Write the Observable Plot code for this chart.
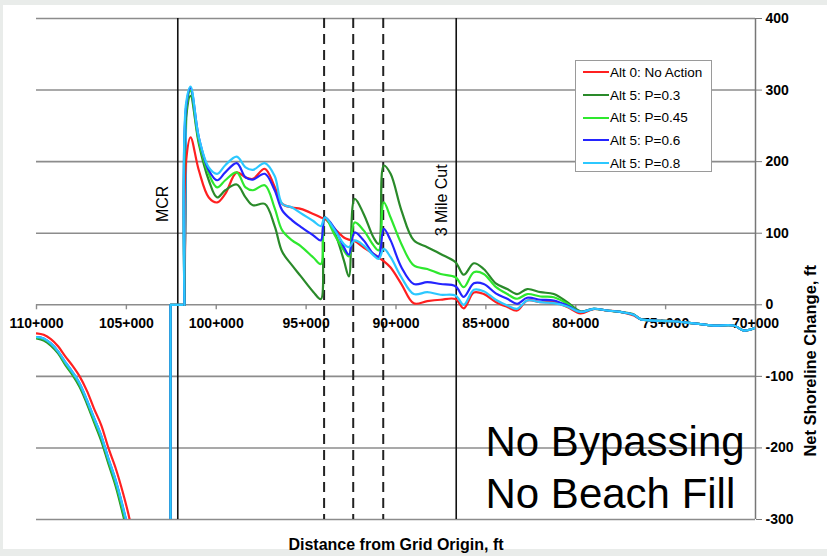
<!DOCTYPE html>
<html>
<head>
<meta charset="utf-8">
<script src="https://cdn.jsdelivr.net/npm/d3@7"></script>
<script src="https://cdn.jsdelivr.net/npm/@observablehq/plot@0.6"></script>
<style>
  body { margin: 0; background: #e9ecea; }
  #wrap { position: relative; width: 827px; height: 556px; overflow: hidden; font-family: "Liberation Sans", Arial, sans-serif; }
  #panel { position: absolute; left: 3px; top: 5px; width: 824px; height: 544px; background: #fff; }
  #chart { position: absolute; left: 0; top: 0; }
  #legend { position: absolute; left: 575px; top: 60px; width: 137px; height: 112px; box-sizing: border-box;
            border: 1.5px solid #9a9a9a; background: #fff; }
  .lg-row { position: relative; height: 22.7px; display: flex; align-items: center; font-size: 13.5px; color: #000; }
  .lg-sw { width: 26px; height: 0; border-top: 2.4px solid; margin-left: 7px; margin-right: 1px; }
</style>
</head>
<body>
<div id="wrap">
  <div id="panel"></div>
  <div id="chart"></div>
  <div id="legend"></div>
</div>
<script>
// ---- Series ----
const seriesNames = ["Alt 0: No Action", "Alt 5: P=0.3", "Alt 5: P=0.45", "Alt 5: P=0.6", "Alt 5: P=0.8"];
const seriesColors = ["#ff2020", "#2a8a2a", "#2ee82e", "#2424ff", "#2cc8ff"];

// Distance from grid origin (ft)
const distanceFt = [
  110000,109600,109200,108800,108400,108000,107600,107200,106800,106400,106000,105600,105200,104800,104400,104000,102545,102545,101770,
  101680,101430,100970,100415,99950,99500,98860,98370,97960,97300,96750,96330,95780,95300,94600,94180,93960,93400,92900,92620,92300,
  91800,91250,90960,90680,90300,89700,89010,88260,87520,86690,86230,85670,85120,84450,83810,83260,82700,81960,81220,80470,79740,
  79000,78250,77510,76770,76400,75660,74550,73430,72320,71210,70650,70000
];

// Net shoreline change (ft)
const alt0 = [
  -40,-42,-48,-58,-72,-85,-100,-120,-145,-168,-200,-228,-262,-302,-360,-420,-700,0,0,
  200,234,188,150,143,155,185,178,176,190,165,141,136,134,127,122,120,106,94,91,89,
  80,71,66,61,52,29,2,5,7,8,-5,17,15,4,-3,-8,6,3.6,3.6,-3,-12,
  -6,-8,-10,-15,-20,-22,-23,-26,-29,-29,-36,-32
];
const p030 = [
  -47,-50,-57,-68,-84,-98,-115,-138,-164,-190,-222,-253,-292,-335,-400,-460,-700,0,0,
  260,292,225,174,150,160,168,150,139,141,110,74,55,40,18,8,122,100,62,39.5,148,
  127,94,85,194.5,183,132,90,80.5,71,59.5,42,58,50,30,22,15,22,17.6,15,3.6,-9,
  -5.6,-8,-10,-13.5,-20,-22,-23,-26,-29,-29,-36,-32
];
const p045 = [
  -46,-48,-55,-66,-82,-96,-112,-135,-161,-186,-218,-249,-287,-330,-395,-455,-700,0,0,
  270,299,229,183,164,174,185,164,160,167,135,104,90,82,66,57,122,97,76,67.5,115,
  104,83,76,143,122,85,55,50,43,38.5,24.6,45.5,43,25,15,8.4,15,11.6,10.6,1.4,-10,
  -5.6,-8,-10,-14,-20,-22,-23,-26,-29,-29,-36,-32
];
const p060 = [
  -45,-47,-54,-65,-80,-94,-110,-133,-158,-183,-215,-245,-282,-325,-390,-450,-700,0,0,
  275,303,234,188,174,185,198,178,175,183,160,132,118,109,97,90,122,106,80.5,70,101,
  90,71,67.5,106,90,52.5,29,31.6,29,26,11,30,29,16,8.4,1.4,9.8,7,6,-1,-10,
  -5.6,-8,-10,-14,-20,-22,-23,-26,-29,-29,-36,-32
];
const p080 = [
  -45,-47,-54,-65,-80,-94,-110,-133,-158,-183,-215,-245,-282,-325,-390,-450,-700,0,0,
  281,305,234,192,183,195,207,192,188.5,198,180,141,136,128,117,110,122,104,85,80.5,90,
  83,69,64,78,66.5,38.5,15,17.6,14,13,0,21,19,7,-1,-5.6,6,3.6,2.3,-2.4,-10,
  -5.6,-8,-10,-14,-20,-22,-23,-26,-29,-29,-36,-32
];
// index range of the sharp step (jump back up to zero, flat, then rise)
const stepStart = 16, stepEnd = 19;

// ---- Axes / annotations ----
const xDomain = [110000, 70000];
const yDomain = [-300, 400];
const xTicks = [110000, 105000, 100000, 95000, 90000, 85000, 80000, 75000, 70000];
const xTickLabels = ["110+000", "105+000", "100+000", "95+000", "90+000", "85+000", "80+000", "75+000", "70+000"];
const yTicks = [-300, -200, -100, 0, 100, 200, 300, 400];
const solidRefLines = [102140, 86650];
const solidRefLabels = ["MCR", "3 Mile Cut"];
const solidRefLabelY = [141, 146];
const dashedRefLines = [94000, 92380, 90710];
const noteText = ["No Bypassing\nNo Beach Fill"];
const noteX = [85020];
const noteY = [-284];
const xTitle = "Distance from Grid Origin, ft";
const yTitle = "Net Shoreline Change, ft";

const seriesValues = [alt0, p030, p045, p060, p080];
const rows = seriesNames.flatMap((s, i) => distanceFt.map((x, j) => ({series: s, x, y: seriesValues[i][j], j})));
const smoothRows = rows.filter(d => d.j <= stepStart).map(d => ({...d, part: "a"}))
  .concat(rows.filter(d => d.j >= stepEnd - 1).map(d => ({...d, part: "b"})));
const stepRows = rows.filter(d => d.j >= stepStart && d.j <= stepEnd);

const chart = Plot.plot({
  width: 827,
  height: 556,
  marginLeft: 36,
  marginRight: 72,
  marginTop: 18,
  marginBottom: 37,
  style: {background: "transparent", fontFamily: "'Liberation Sans', Arial, sans-serif", color: "#000"},
  x: {domain: xDomain, axis: null},
  y: {domain: yDomain, axis: null},
  color: {domain: seriesNames, range: seriesColors},
  marks: [
    Plot.ruleY(yTicks, {stroke: "#8c8c8c", strokeWidth: 1.6}),
    Plot.ruleX(xTicks, {y1: 0, y2: -7, stroke: "#8c8c8c", strokeWidth: 1.4}),
    Plot.ruleX([xDomain[1]], {stroke: "#777", strokeWidth: 1.5}),
    Plot.axisY({anchor: "right", ticks: yTicks, tickSize: 6, tickPadding: 4, tickFormat: d => String(d),
                fontSize: 14, fontWeight: "bold", label: null, stroke: "#777"}),
    Plot.ruleX(solidRefLines, {stroke: "#111", strokeWidth: 1.6}),
    Plot.ruleX(dashedRefLines, {stroke: "#222", strokeWidth: 2, strokeDasharray: "10,6"}),
    Plot.text(xTicks, {x: d => d, y: 0, text: (d, i) => xTickLabels[i], dy: 19, fontSize: 14, fontWeight: "bold"}),
    Plot.line(stepRows, {x: "x", y: "y", z: "series", stroke: "series", strokeWidth: 2.2, curve: "linear", clip: true}),
    Plot.line(smoothRows, {x: "x", y: "y", z: d => d.series + d.part, stroke: "series", strokeWidth: 2.2,
                           curve: "catmull-rom", clip: true}),
    Plot.text(solidRefLabels, {x: (d, i) => solidRefLines[i], y: (d, i) => solidRefLabelY[i], text: d => d,
                               rotate: -90, dx: -14.5, fontSize: 16}),
    Plot.text(noteText, {x: (d, i) => noteX[i], y: (d, i) => noteY[i], text: d => d, textAnchor: "start",
                         lineAnchor: "bottom", lineHeight: 1.25, fontSize: 42}),
    Plot.text([xTitle], {frameAnchor: "bottom", text: d => d, dy: 30, lineAnchor: "bottom", fontSize: 16, fontWeight: "bold"}),
    Plot.text([yTitle], {frameAnchor: "right", text: d => d, rotate: -90, dx: 55, dy: -4, fontSize: 16.5, fontWeight: "bold"})
  ]
});
document.getElementById("chart").appendChild(chart);

// Legend
const legend = document.getElementById("legend");
seriesNames.forEach((name, i) => {
  const row = document.createElement("div");
  row.className = "lg-row";
  const sw = document.createElement("span");
  sw.className = "lg-sw";
  sw.style.borderTopColor = seriesColors[i];
  const tx = document.createElement("span");
  tx.textContent = name;
  row.appendChild(sw);
  row.appendChild(tx);
  legend.appendChild(row);
});
</script>
</body>
</html>
